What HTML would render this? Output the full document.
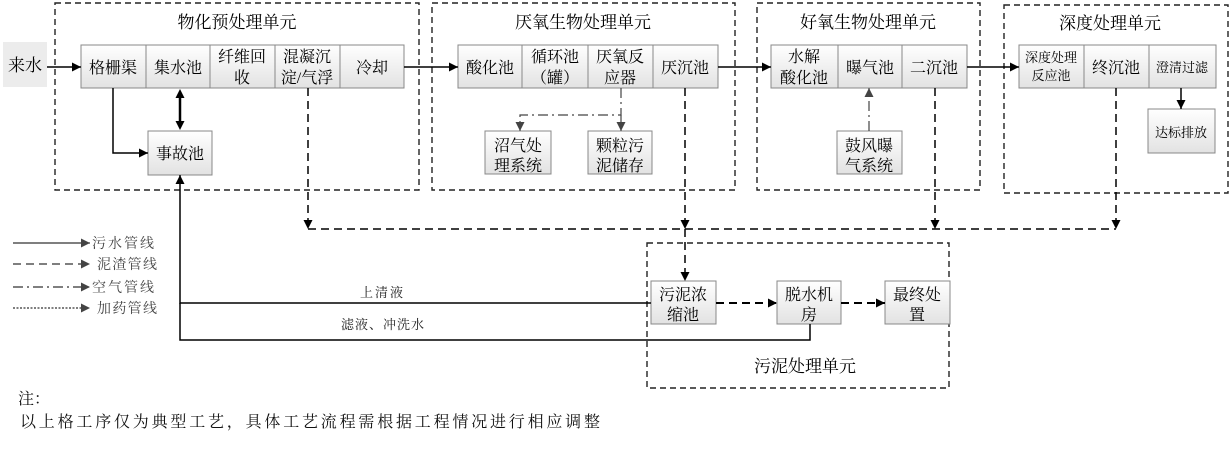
<!DOCTYPE html>
<html><head><meta charset="utf-8"><style>
html,body{margin:0;padding:0;background:#fff;}
svg{display:block;font-family:"Liberation Serif","Noto Serif CJK SC","Noto Sans CJK SC",serif;}
</style></head><body>
<svg width="1230" height="458" viewBox="0 0 1230 458" xmlns="http://www.w3.org/2000/svg">
<defs>
<linearGradient id="g" x1="0" y1="0" x2="0" y2="1"><stop offset="0" stop-color="#ffffff"/><stop offset="1" stop-color="#e2e2e2"/></linearGradient>
<marker id="a" viewBox="0 0 10 10" refX="10" refY="5" markerWidth="9" markerHeight="9" markerUnits="userSpaceOnUse" orient="auto"><path d="M0,0L10,5L0,10z" fill="#000"/></marker>
<marker id="ag" viewBox="0 0 10 10" refX="10" refY="5" markerWidth="9" markerHeight="9" markerUnits="userSpaceOnUse" orient="auto"><path d="M0,0L10,5L0,10z" fill="#444"/></marker>
<marker id="as" viewBox="0 0 10 10" refX="0" refY="5" markerWidth="9" markerHeight="9" markerUnits="userSpaceOnUse" orient="auto-start-reverse"><path d="M0,0L10,5L0,10z" fill="#000"/></marker>
</defs>
<g fill="none" stroke="#222" stroke-width="1.4" stroke-dasharray="6,4">
<rect x="55" y="3" width="364" height="187"/>
<rect x="432" y="3" width="303" height="187"/>
<rect x="757" y="3" width="223" height="187"/>
<rect x="1004" y="5" width="224" height="188"/>
<rect x="647" y="243" width="302" height="145"/>
</g>
<g font-size="17" fill="#000" text-anchor="middle">
<text x="237" y="28">物化预处理单元</text>
<text x="583" y="28">厌氧生物处理单元</text>
<text x="868" y="28">好氧生物处理单元</text>
<text x="1110" y="29">深度处理单元</text>
<text x="805" y="372">污泥处理单元</text>
</g>
<rect x="3" y="42" width="44" height="45" fill="#ececec"/>
<text x="25" y="71" font-size="17" text-anchor="middle">来水</text>
<g stroke="#888" stroke-width="1" fill="url(#g)">
<rect x="81" y="45" width="323" height="43"/>
<rect x="148" y="131" width="64" height="44"/>
<rect x="458" y="45" width="260" height="43"/>
<rect x="485" y="131" width="66" height="43"/>
<rect x="588" y="131" width="64" height="43"/>
<rect x="771" y="45" width="196" height="43"/>
<rect x="837" y="131" width="65" height="43"/>
<rect x="1019" y="45" width="197" height="43"/>
<rect x="1148" y="109" width="67" height="44"/>
<rect x="651" y="281" width="65" height="43"/>
<rect x="777" y="281" width="64" height="43"/>
<rect x="885" y="281" width="65" height="43"/>
</g>
<g stroke="#888" stroke-width="1">
<line x1="146" y1="45" x2="146" y2="88"/><line x1="210" y1="45" x2="210" y2="88"/><line x1="275" y1="45" x2="275" y2="88"/><line x1="340" y1="45" x2="340" y2="88"/>
<line x1="522" y1="45" x2="522" y2="88"/><line x1="588" y1="45" x2="588" y2="88"/><line x1="653" y1="45" x2="653" y2="88"/>
<line x1="838" y1="45" x2="838" y2="88"/><line x1="902" y1="45" x2="902" y2="88"/>
<line x1="1084" y1="45" x2="1084" y2="88"/><line x1="1149" y1="45" x2="1149" y2="88"/>
</g>
<g font-size="16" fill="#000" text-anchor="middle">
<text x="113" y="73">格栅渠</text><text x="178" y="73">集水池</text>
<text x="242" y="62">纤维回</text><text x="242" y="83">收</text>
<text x="307" y="62">混凝沉</text><text x="307" y="83">淀/气浮</text>
<text x="372" y="73">冷却</text>
<text x="180" y="159">事故池</text>
<text x="490" y="73">酸化池</text>
<text x="555" y="62">循环池</text><text x="555" y="83">（罐）</text>
<text x="620" y="62">厌氧反</text><text x="620" y="83">应器</text>
<text x="685" y="73">厌沉池</text>
<text x="518" y="151">沼气处</text><text x="518" y="171">理系统</text>
<text x="620" y="151">颗粒污</text><text x="620" y="171">泥储存</text>
<text x="804" y="62">水解</text><text x="804" y="83">酸化池</text>
<text x="870" y="73">曝气池</text><text x="934" y="73">二沉池</text>
<text x="869" y="151">鼓风曝</text><text x="869" y="171">气系统</text>
<text x="1116" y="73">终沉池</text>
<text x="683" y="300">污泥浓</text><text x="683" y="320">缩池</text>
<text x="809" y="300">脱水机</text><text x="809" y="320">房</text>
<text x="917" y="300">最终处</text><text x="917" y="320">置</text>
</g>
<g font-size="13" fill="#000" text-anchor="middle">
<text x="1051" y="62">深度处理</text><text x="1051" y="80">反应池</text>
<text x="1182" y="72">澄清过滤</text>
<text x="1181" y="137">达标排放</text>
</g>
<g stroke="#000" stroke-width="1.5" fill="none">
<line x1="47" y1="67" x2="81" y2="67" marker-end="url(#a)"/>
<line x1="404" y1="67" x2="458" y2="67" marker-end="url(#a)"/>
<line x1="718" y1="67" x2="771" y2="67" marker-end="url(#a)"/>
<line x1="967" y1="67" x2="1019" y2="67" marker-end="url(#a)"/>
<polyline points="113,88 113,153 148,153" marker-end="url(#a)"/>
<line x1="180" y1="98" x2="180" y2="121" marker-start="url(#as)" marker-end="url(#as)" stroke-width="2.5"/>
<line x1="1181" y1="88" x2="1181" y2="109" marker-end="url(#a)"/>
<polyline points="651,303 180,303 180,175" marker-end="url(#a)"/>
<polyline points="810,324 810,340 180,340 180,303"/>
</g>
<g stroke="#000" stroke-width="1.5" fill="none" stroke-dasharray="8,5">
<line x1="308" y1="88" x2="308" y2="229" marker-end="url(#a)"/>
<line x1="685" y1="88" x2="685" y2="229" marker-end="url(#a)"/>
<line x1="935" y1="88" x2="935" y2="229" marker-end="url(#a)"/>
<line x1="1116" y1="88" x2="1116" y2="229" marker-end="url(#a)"/>
<line x1="308" y1="229" x2="1116" y2="229"/>
<line x1="685" y1="229" x2="685" y2="281" marker-end="url(#a)"/>
<line x1="716" y1="303" x2="777" y2="303" marker-end="url(#a)" stroke-width="2"/>
<line x1="841" y1="303" x2="885" y2="303" marker-end="url(#a)" stroke-width="2"/>
</g>
<g stroke="#444" stroke-width="1.2" fill="none" stroke-dasharray="10,4,2,4">
<polyline points="621,88 621,115 520,115 520,131" marker-end="url(#ag)"/>
<line x1="621" y1="115" x2="621" y2="131" marker-end="url(#ag)"/>
<line x1="869" y1="131" x2="869" y2="88" marker-end="url(#ag)"/>
</g>
<g stroke="#333" stroke-width="1.3" fill="none">
<line x1="13" y1="243" x2="90" y2="243" marker-end="url(#ag)"/>
<line x1="13" y1="264" x2="90" y2="264" stroke-dasharray="8,5" marker-end="url(#ag)"/>
<line x1="13" y1="287" x2="90" y2="287" stroke-dasharray="10,4,2,4" marker-end="url(#ag)"/>
<line x1="13" y1="308" x2="90" y2="308" stroke-dasharray="2,1.5" marker-end="url(#ag)"/>
</g>
<g font-size="14" fill="#444">
<text x="92" y="248" textLength="62">污水管线</text><text x="97" y="269" textLength="60">泥渣管线</text>
<text x="92" y="292" textLength="62">空气管线</text><text x="97" y="313" textLength="60">加药管线</text>
</g>
<g font-size="13" fill="#222">
<text x="360" y="297" textLength="43">上清液</text><text x="341" y="329" textLength="83">滤液、冲洗水</text>
</g>
<g font-size="16" fill="#111">
<text x="18" y="404">注：</text>
<text x="20" y="427" textLength="580">以上格工序仅为典型工艺，具体工艺流程需根据工程情况进行相应调整</text>
</g>
</svg>
</body></html>
